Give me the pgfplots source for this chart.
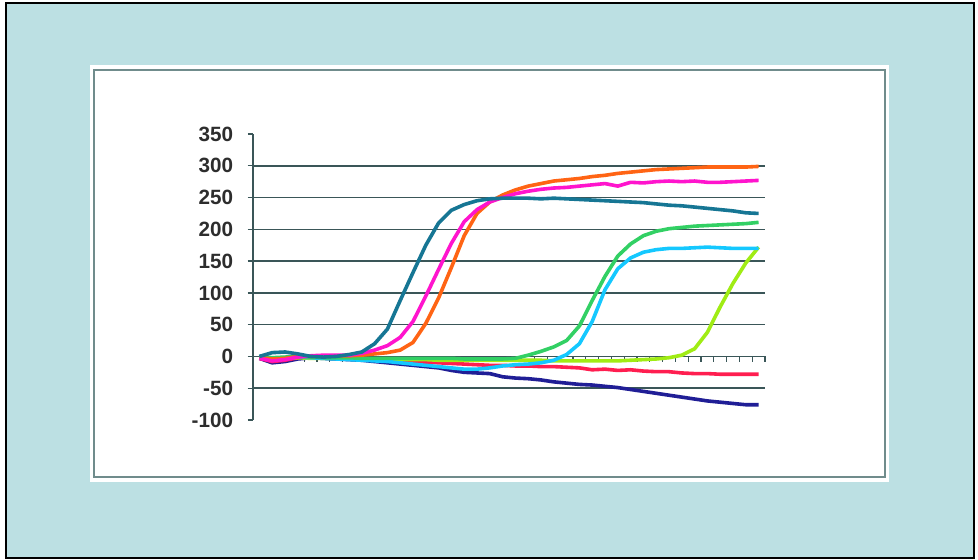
\documentclass[border=0pt]{standalone}
\usepackage{fontspec}
\setmainfont{Liberation Sans}
\usepackage{pgfplots}
\usepackage{pgfplotstable}
\pgfplotsset{compat=1.18}
\definecolor{bgblue}{RGB}{188,224,227}
\definecolor{framegray}{RGB}{112,140,140}
\definecolor{gridc}{RGB}{58,86,88}
\definecolor{labelc}{RGB}{45,45,45}
\definecolor{cteal}{RGB}{22,118,148}
\definecolor{cmag}{RGB}{255,20,205}
\definecolor{cora}{RGB}{255,100,20}
\definecolor{cgrn}{RGB}{50,208,100}
\definecolor{clbl}{RGB}{20,200,255}
\definecolor{cygr}{RGB}{160,236,20}
\definecolor{cred}{RGB}{255,30,80}
\definecolor{cnav}{RGB}{32,30,150}
\pgfplotstableread{
c teal mag ora grn lbl ygr red nav
1 0 -3 -2 0 0 -2 -3 -3
2 6 -7 -4 -2 -3 -4 -8 -10
3 7 -5 -3 -1 -2 -3 -6 -8
4 4 -1 0 0 -1 -2 -2 -4
5 0 1 0 -1 -2 -3 0 -2
6 -1 2 1 -2 -3 -3 -1 -3
7 0 2 1 -2 -4 -3 -2 -4
8 3 2 1 -2 -5 -4 -3 -5
9 7 5 2 -3 -6 -4 -4 -6
10 20 10 4 -3 -7 -4 -5 -8
11 43 17 6 -3 -8 -5 -6 -10
12 88 30 10 -3 -10 -5 -7 -12
13 132 55 22 -3 -12 -5 -8 -14
14 175 95 52 -3 -14 -5 -9 -16
15 210 137 92 -3 -16 -6 -10 -18
16 230 178 140 -3 -18 -6 -11 -22
17 239 212 190 -4 -20 -6 -12 -25
18 245 231 225 -4 -20 -6 -13 -26
19 248 243 243 -4 -18 -6 -14 -27
20 249 250 254 -4 -15 -6 -14 -32
21 249 256 262 -3 -13 -6 -15 -34
22 249 260 268 2 -12 -6 -15 -35
23 248 263 272 8 -10 -6 -16 -37
24 249 265 276 15 -6 -7 -16 -40
25 248 266 278 25 3 -7 -17 -42
26 247 268 280 48 20 -7 -18 -44
27 246 270 283 88 55 -7 -21 -45
28 245 272 285 126 105 -7 -20 -47
29 244 268 288 158 138 -7 -22 -49
30 243 274 290 177 155 -6 -21 -52
31 242 273 292 190 164 -5 -23 -55
32 240 275 294 197 168 -4 -24 -58
33 238 276 295 201 170 -2 -24 -61
34 237 275 296 203 170 2 -26 -64
35 235 276 297 205 171 12 -27 -67
36 233 274 298 206 172 38 -27 -70
37 231 274 298 207 171 78 -28 -72
38 229 275 298 208 170 115 -28 -74
39 226 276 298 209 170 147 -28 -76
40 225 277 299 211 170 172 -28 -76
}\datatable
\begin{document}
\begin{tikzpicture}[x=0.75pt,y=0.75pt]
\path[use as bounding box] (0,0) rectangle (978,560);
\fill[white] (0,0) rectangle (978,560);
\draw[black, line width=1.5pt, fill=bgblue] (6,2) rectangle (974,557);
\fill[white] (90,78) rectangle (889,495);
\draw[framegray, line width=1.5pt] (94,83) rectangle (885,490);
\begin{axis}[
  at={(189.75pt,105pt)}, anchor=south west,
  scale only axis, width=384pt, height=214.5pt,
  xmin=0.5, xmax=40.5, ymin=-100, ymax=350,
  axis y line=left, axis x line=middle,
  axis line style={-, gridc, line width=1.3pt},
  xtick={0.5,1.5,...,40.5}, xticklabels={},
  ytick={-100,-50,...,350},
  tick align=outside,
  major tick length=3.8pt,
  tick style={gridc, line width=1pt},
  extra y ticks={-50,0,50,100,150,200,250,300},
  extra y tick labels={},
  extra y tick style={grid=major},
  major grid style={gridc, line width=1.1pt},
  /pgf/number format/assume math mode=true,
  yticklabel style={font=\fontsize{15.5pt}{15.5pt}\selectfont\bfseries, text=labelc, anchor=east, inner sep=0pt, xshift=-11pt},
  every axis plot/.append style={line width=2.7pt, no markers, line join=round},
  clip=false,
]
\addplot[cnav] table[x=c,y=nav] {\datatable};
\addplot[cred] table[x=c,y=red] {\datatable};
\addplot[cygr] table[x=c,y=ygr] {\datatable};
\addplot[clbl] table[x=c,y=lbl] {\datatable};
\addplot[cgrn] table[x=c,y=grn] {\datatable};
\addplot[cora] table[x=c,y=ora] {\datatable};
\addplot[cmag] table[x=c,y=mag] {\datatable};
\addplot[cteal] table[x=c,y=teal] {\datatable};
\end{axis}
\end{tikzpicture}
\end{document}
